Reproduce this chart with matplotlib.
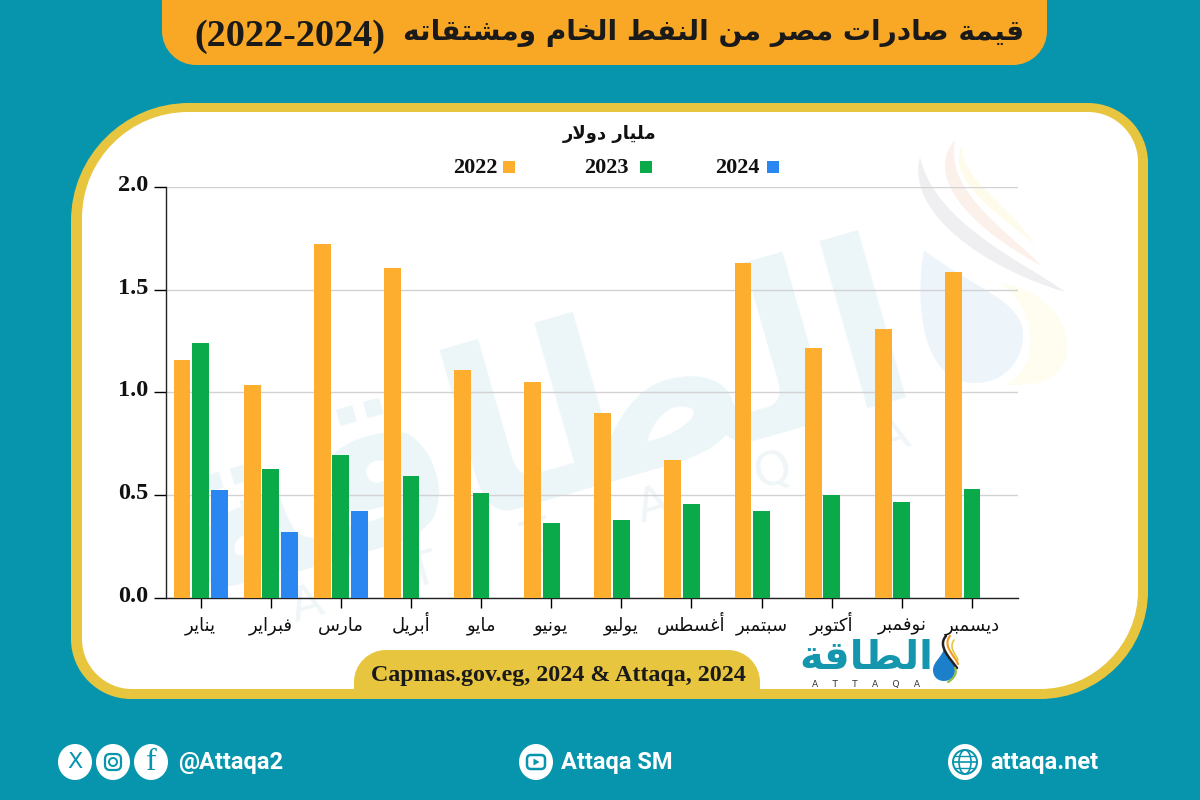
from matplotlib import pyplot as plt
from matplotlib.path import Path
from matplotlib.transforms import ScaledTranslation
import matplotlib.patches as mpatches

import numpy as np

months = ['يناير', 'فبراير', 'مارس', 'أبريل', 'مايو', 'يونيو', 'يوليو', 'أغسطس',
          'سبتمبر', 'أكتوبر', 'نوفمبر', 'ديسمبر']
y2022 = [1.16, 1.035, 1.725, 1.605, 1.11, 1.05, 0.90, 0.67, 1.63, 1.215, 1.31, 1.585]
y2023 = [1.24, 0.63, 0.695, 0.595, 0.51, 0.365, 0.38, 0.455, 0.425, 0.50, 0.465, 0.53]
y2024 = [0.525, 0.32, 0.425]
yticks = [0.0, 0.5, 1.0, 1.5, 2.0]

title_ar = 'قيمة صادرات مصر من النفط الخام ومشتقاته'
title_years = '(2022-2024)'
unit = 'مليار دولار'
source = 'Capmas.gov.eg, 2024 & Attaqa, 2024'
logo_ar = 'الطاقة'

TEAL = '#0795AE'
GOLD = '#E8C53F'
ORANGE = '#FDAE2E'
GREEN = '#0AA94A'
BLUE = '#2A86F0'
SERIF = 'Liberation Serif'

# first code point of each letter in Arabic presentation forms B
FORMS = {'ا': 0xFE8D, 'أ': 0xFE83, 'ب': 0xFE8F, 'ة': 0xFE93, 'ت': 0xFE95, 'خ': 0xFEA5,
         'د': 0xFEA9, 'ر': 0xFEAD, 'س': 0xFEB1, 'ش': 0xFEB5, 'ص': 0xFEB9, 'ط': 0xFEC1,
         'غ': 0xFECD, 'ف': 0xFED1, 'ق': 0xFED5, 'ك': 0xFED9, 'ل': 0xFEDD, 'م': 0xFEE1,
         'ن': 0xFEE5, 'ه': 0xFEE9, 'و': 0xFEED, 'ي': 0xFEF1}
RIGHT_ONLY = 'اأدرةو'
LAM_ALEF = {'ا': 0xFEFB, 'أ': 0xFEF7}


def shape(text):
    # matplotlib does no arabic shaping, so pick the joined forms and reverse
    out = []
    i = 0
    while i < len(text):
        ch = text[i]
        prev = text[i - 1] if i > 0 else ' '
        before = prev in FORMS and prev not in RIGHT_ONLY
        nxt = text[i + 1] if i + 1 < len(text) else ' '
        if ch == 'ل' and nxt in LAM_ALEF:
            out.append(chr(LAM_ALEF[nxt] + (1 if before else 0)))
            i += 2
            continue
        if ch not in FORMS:
            out.append(ch)
            i += 1
            continue
        after = nxt in FORMS and ch not in RIGHT_ONLY
        if before and after:
            off = 3
        elif after:
            off = 2
        elif before:
            off = 1
        else:
            off = 0
        out.append(chr(FORMS[ch] + off))
        i += 1
    return ''.join(reversed(out))


def round_box(x0, y0, x1, y1, tl, tr, br, bl, **kw):
    k = 0.45
    verts = [(x0 + tl, y0), (x1 - tr, y0),
             (x1 - tr * k, y0), (x1, y0 + tr * k), (x1, y0 + tr),
             (x1, y1 - br),
             (x1, y1 - br * k), (x1 - br * k, y1), (x1 - br, y1),
             (x0 + bl, y1),
             (x0 + bl * k, y1), (x0, y1 - bl * k), (x0, y1 - bl),
             (x0, y0 + tl),
             (x0, y0 + tl * k), (x0 + tl * k, y0), (x0 + tl, y0)]
    codes = [Path.MOVETO, Path.LINETO, Path.CURVE4, Path.CURVE4, Path.CURVE4, Path.LINETO,
             Path.CURVE4, Path.CURVE4, Path.CURVE4, Path.LINETO,
             Path.CURVE4, Path.CURVE4, Path.CURVE4, Path.LINETO,
             Path.CURVE4, Path.CURVE4, Path.CURVE4]
    return mpatches.PathPatch(Path(verts, codes), lw=0, **kw)


def blob(pts, color):
    # closed shape made of cubic segments
    codes = [Path.MOVETO] + [Path.CURVE4] * (len(pts) - 1)
    return mpatches.PathPatch(Path(pts, codes), fc=color, lw=0)


def curve(pts, color, lw):
    codes = [Path.MOVETO] + [Path.CURVE4] * (len(pts) - 1)
    return mpatches.PathPatch(Path(pts, codes), fc='none', ec=color, lw=lw, capstyle='round')


fig = plt.figure(figsize=(12, 8), dpi=100, facecolor=TEAL)

# background layer in pixel coordinates
bg = fig.add_axes([0, 0, 1, 1], zorder=0)
bg.set_xlim(0, 1200)
bg.set_ylim(800, 0)
bg.axis('off')

bg.add_patch(round_box(162, -40, 1047, 65, 0, 0, 34, 34, fc='#F9A825'))
bg.text(1024, 33, shape(title_ar), ha='right', va='center', fontsize=20.2, fontweight='bold', color='#1a1a1a')
bg.text(194, 36, title_years, ha='left', va='center', fontsize=27.5, fontweight='bold', family=SERIF, color='#1a1a1a')

bg.add_patch(round_box(71, 103, 1148, 699, 118, 60, 108, 60, fc=GOLD))
bg.add_patch(round_box(82, 112, 1138, 689, 106, 50, 98, 50, fc='white'))

# faint watermark behind the chart
bg.text(540, 432, shape(logo_ar), ha='center', va='center', rotation=16, rotation_mode='anchor',
        fontsize=165, fontweight='bold', color='#ECF6F9')
bg.text(600, 522, 'A      T      T      A      Q      A', ha='center', va='center', rotation=16,
        rotation_mode='anchor', fontsize=34, color='#F0F5F8')
bg.add_patch(blob([(1000, 283), (1050, 290), (1075, 330), (1065, 360),
                   (1055, 385), (1030, 385), (1005, 385),
                   (1040, 370), (1040, 310), (1000, 283)], '#FEFDEF'))
bg.add_patch(blob([(924, 250), (915, 300), (920, 383), (975, 383),
                   (1005, 383), (1023, 360), (1023, 335),
                   (1023, 300), (975, 290), (924, 250)], '#EDF4FA'))
bg.add_patch(blob([(920, 157), (905, 215), (990, 270), (1065, 292),
                   (1030, 265), (935, 225), (920, 157)], '#EFEFF2'))
bg.add_patch(blob([(955, 140), (925, 175), (965, 225), (1042, 266),
                   (1000, 225), (945, 190), (955, 140)], '#FBF0EA'))
bg.add_patch(blob([(962, 145), (945, 180), (1000, 215), (1035, 245),
                   (1010, 205), (960, 180), (962, 145)], '#FFFBEA'))

# source strip
bg.add_patch(round_box(354, 650, 760, 690, 32, 32, 0, 0, fc=GOLD))
bg.text(558, 676, source, ha='center', va='center', fontsize=17.3, fontweight='bold', family=SERIF, color='#1a1a1a')

# logo
bg.text(866, 658, shape(logo_ar), ha='center', va='center', fontsize=29, fontweight='bold', color='#1496AE')
bg.text(866, 684, 'A     T     T     A     Q     A', ha='center', va='center', fontsize=6.5, color='#333333')
bg.add_patch(blob([(944, 649), (941, 658), (933, 662), (933, 670),
                   (933, 677), (938, 681), (944, 681),
                   (950, 681), (955, 677), (955, 670),
                   (955, 662), (947, 658), (944, 649)], '#1C7FCB'))
bg.add_patch(curve([(946, 636), (937, 646), (950, 658), (957, 668)], '#222222', 1.8))
bg.add_patch(curve([(950, 636), (942, 646), (955, 656), (958, 664)], '#F09A20', 1.5))
bg.add_patch(curve([(954, 640), (948, 648), (957, 656), (958, 660)], '#E8C53F', 1.2))
bg.add_patch(curve([(955, 668), (958, 674), (952, 680), (948, 682)], '#8DBE3F', 1.5))

# legend
legend_items = [(ORANGE, '2022', 503, 498), (GREEN, '2023', 640, 629), (BLUE, '2024', 767, 760)]
for color, label, box_x, text_x in legend_items:
    bg.add_patch(mpatches.Rectangle((box_x, 161), 12, 12, fc=color, lw=0))
    bg.text(text_x, 168, label, ha='right', va='center', fontsize=16, fontweight='bold', family=SERIF, color='#111111')
bg.text(610, 134, shape(unit), ha='center', va='center', fontsize=13, fontweight='bold', color='#111111')

# footer
for cx in (75, 113, 151, 536, 965):
    bg.add_patch(mpatches.Ellipse((cx, 762), 34, 36, fc='white', lw=0))
bg.text(75, 762, 'X', ha='center', va='center', fontsize=16, color=TEAL, family='DejaVu Sans')
bg.add_patch(mpatches.FancyBboxPatch((105, 754), 16, 16, boxstyle='round,pad=0,rounding_size=5', fc='none', ec=TEAL, lw=1.6))
bg.add_patch(mpatches.Circle((113, 762), 4, fc='none', ec=TEAL, lw=1.4))
bg.text(151, 762, 'f', ha='center', va='center', fontsize=23, color=TEAL, family=SERIF)
bg.add_patch(mpatches.FancyBboxPatch((527, 755), 18, 14, boxstyle='round,pad=0,rounding_size=4', fc='none', ec=TEAL, lw=1.8))
bg.add_patch(mpatches.Polygon([(533.5, 758.5), (533.5, 765.5), (539.5, 762)], fc=TEAL, lw=0))
bg.add_patch(mpatches.Circle((965, 762), 12, fc='none', ec=TEAL, lw=1.4))
bg.add_patch(mpatches.Ellipse((965, 762), 12, 24, fc='none', ec=TEAL, lw=1.2))
bg.plot([953, 977], [762, 762], color=TEAL, lw=1.2)
bg.plot([955, 975], [756, 756], color=TEAL, lw=1.0)
bg.plot([955, 975], [768, 768], color=TEAL, lw=1.0)
bg.text(178, 763, '@Attaqa2', ha='left', va='center', fontsize=17, fontweight='bold', family='Roboto', color='white')
bg.text(561, 763, 'Attaqa SM', ha='left', va='center', fontsize=17, fontweight='bold', family='Roboto', color='white')
bg.text(990, 763, 'attaqa.net', ha='left', va='center', fontsize=17, fontweight='bold', family='Roboto', color='white')

# the chart
ax = fig.add_axes([165.5 / 1200, 202 / 800, 852 / 1200, 411 / 800], zorder=1)
ax.patch.set_visible(False)
x = np.arange(len(months))
width = 0.24
step = 0.265
ax.bar(x - step, y2022, width, color=ORANGE, zorder=3)
ax.bar(x, y2023, width, color=GREEN, zorder=3)
ax.bar(x[:len(y2024)] + step, y2024, width, color=BLUE, zorder=3)

ax.set_xlim(-0.5, 11.65)
ax.set_ylim(0, 2.0)
ax.set_yticks(yticks)
ax.set_yticklabels(['%.1f' % v for v in yticks], family=SERIF, fontweight='bold', fontsize=17.5, color='#111111')
ax.set_xticks(x)
ax.set_xticklabels([shape(m) for m in months], fontsize=13, color='#111111')
ax.tick_params(axis='y', length=8.6, width=1, pad=4)
ax.tick_params(axis='x', length=7, width=1, pad=16.5)
for label in ax.get_xticklabels():
    label.set_va('baseline')
# y labels sit a little above their ticks
raise_labels = ScaledTranslation(0, 3 / 72, fig.dpi_scale_trans)
for label in ax.get_yticklabels():
    label.set_transform(label.get_transform() + raise_labels)
ax.grid(axis='y', color='#D2D2D2', lw=1, zorder=1)
ax.set_axisbelow(True)
for side in ('top', 'right'):
    ax.spines[side].set_visible(False)
for side in ('left', 'bottom'):
    ax.spines[side].set_linewidth(1)
    ax.spines[side].set_color('#222222')

fig.savefig('out.png', dpi=100, facecolor=TEAL)
